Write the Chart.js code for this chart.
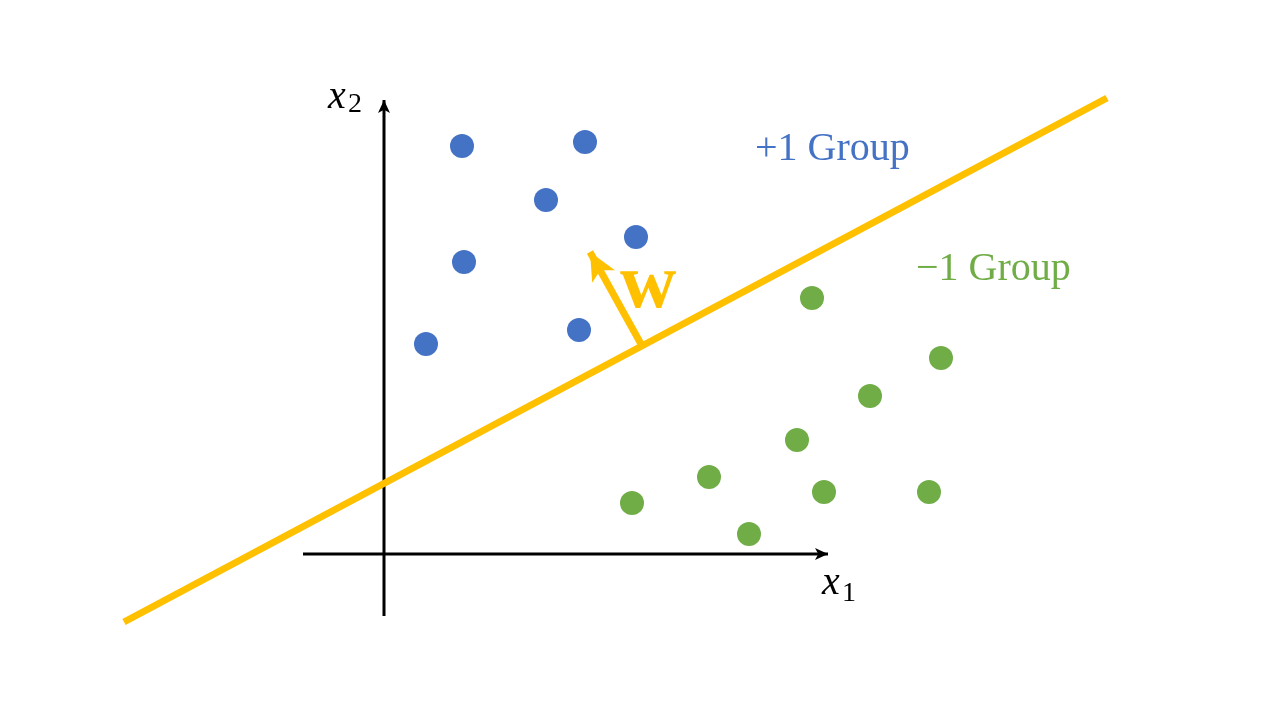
<!DOCTYPE html>
<html>
<head>
<meta charset="utf-8">
<script src="https://cdn.jsdelivr.net/npm/chart.js@4"></script>
<style>
  html, body { margin: 0; padding: 0; background: #fff; }
  #wrap { width: 1280px; height: 720px; position: relative; }
</style>
</head>
<body>
<div id="wrap"><canvas id="svmChart"></canvas></div>
<script>
  // data (origin at the axes crossing)
  const plusX = [0.78, 2.01, 1.62, 2.52, 0.80, 0.42, 1.95];
  const plusY = [4.08, 4.12, 3.54, 3.17, 2.92, 2.10, 2.24];
  const minusX = [4.28, 5.57, 4.86, 4.13, 3.25, 4.40, 5.45, 2.48, 3.65];
  const minusY = [2.56, 1.96, 1.58, 1.14, 0.77, 0.62, 0.62, 0.51, 0.20];
  const boundaryX = [-2.60, 7.23];
  const boundaryY = [-0.68, 4.56];
  const wX = [2.57, 2.06];
  const wY = [2.10, 3.02];
  const axisX1 = [-0.81, 4.44];
  const axisX2 = [-0.62, 4.54];

  const blue = '#4472C4';
  const green = '#70AD47';
  const yellow = '#FFC000';

  const pts = (xs, ys) => xs.map((x, i) => ({ x: x, y: ys[i] }));

  // arrow heads + text labels
  const extras = {
    id: 'extras',
    afterDatasetsDraw(chart) {
      const ctx = chart.ctx;
      const sx = chart.scales.x, sy = chart.scales.y;
      const px = v => sx.getPixelForValue(v);
      const py = v => sy.getPixelForValue(v);

      function head(x0, y0, x1, y1, len, half, color) {
        const a = Math.atan2(py(y1) - py(y0), px(x1) - px(x0));
        const tx = px(x1), ty = py(y1);
        ctx.save();
        ctx.translate(tx, ty);
        ctx.rotate(a);
        ctx.beginPath();
        ctx.moveTo(0, 0);
        ctx.lineTo(-len, -half);
        ctx.lineTo(-len * 0.75, 0);
        ctx.lineTo(-len, half);
        ctx.closePath();
        ctx.fillStyle = color;
        ctx.fill();
        ctx.restore();
      }
      head(axisX1[0], 0, axisX1[1], 0, 13, 6, '#000');
      head(0, axisX2[0], 0, axisX2[1], 13, 6, '#000');
      head(wX[0], wY[0], wX[1], wY[1], 28, 13, yellow);

      ctx.save();
      ctx.textBaseline = 'alphabetic';
      ctx.textAlign = 'left';
      ctx.fillStyle = blue;
      ctx.font = '40px "Liberation Serif", serif';
      ctx.fillText('+1 Group', px(3.71), py(3.94));
      ctx.fillStyle = green;
      ctx.fillText('\u22121 Group', px(5.32), py(2.74));

      ctx.fillStyle = yellow;
      ctx.font = 'bold 78px "Liberation Serif", serif';
      ctx.fillText('w', px(2.36), py(2.47));

      ctx.fillStyle = '#000';
      ctx.font = 'italic 40px "Liberation Serif", serif';
      ctx.fillText('x', px(4.38), py(-0.40));
      ctx.fillText('x', px(-0.56), py(4.46));
      ctx.font = '28px "Liberation Serif", serif';
      ctx.fillText('1', px(4.58), py(-0.47));
      ctx.fillText('2', px(-0.36), py(4.42));
      ctx.restore();
    }
  };

  new Chart(document.getElementById('svmChart'), {
    type: 'scatter',
    data: {
      datasets: [
        {
          data: pts(plusX, plusY),
          backgroundColor: blue, borderColor: blue,
          pointRadius: 12, pointBorderWidth: 0
        },
        {
          data: pts(minusX, minusY),
          backgroundColor: green, borderColor: green,
          pointRadius: 12, pointBorderWidth: 0
        },
        {
          type: 'line',
          data: pts(boundaryX, boundaryY),
          borderColor: yellow, borderWidth: 7, pointRadius: 0,
          borderCapStyle: 'butt', fill: false
        },
        {
          type: 'line',
          data: pts(wX, wY),
          borderColor: yellow, borderWidth: 7, pointRadius: 0,
          borderCapStyle: 'butt', fill: false
        },
        {
          type: 'line',
          data: pts(axisX1, [0, 0]),
          borderColor: '#000', borderWidth: 3, pointRadius: 0, fill: false
        },
        {
          type: 'line',
          data: pts([0, 0], axisX2),
          borderColor: '#000', borderWidth: 3, pointRadius: 0, fill: false
        }
      ]
    },
    options: {
      responsive: true,
      maintainAspectRatio: false,
      animation: false,
      layout: { padding: 0, autoPadding: false },
      plugins: { legend: { display: false }, tooltip: { enabled: false } },
      scales: {
        x: { type: 'linear', min: -3.84, max: 8.96, display: false },
        y: { type: 'linear', min: -1.66, max: 5.54, display: false }
      }
    },
    plugins: [extras]
  });
</script>
</body>
</html>
